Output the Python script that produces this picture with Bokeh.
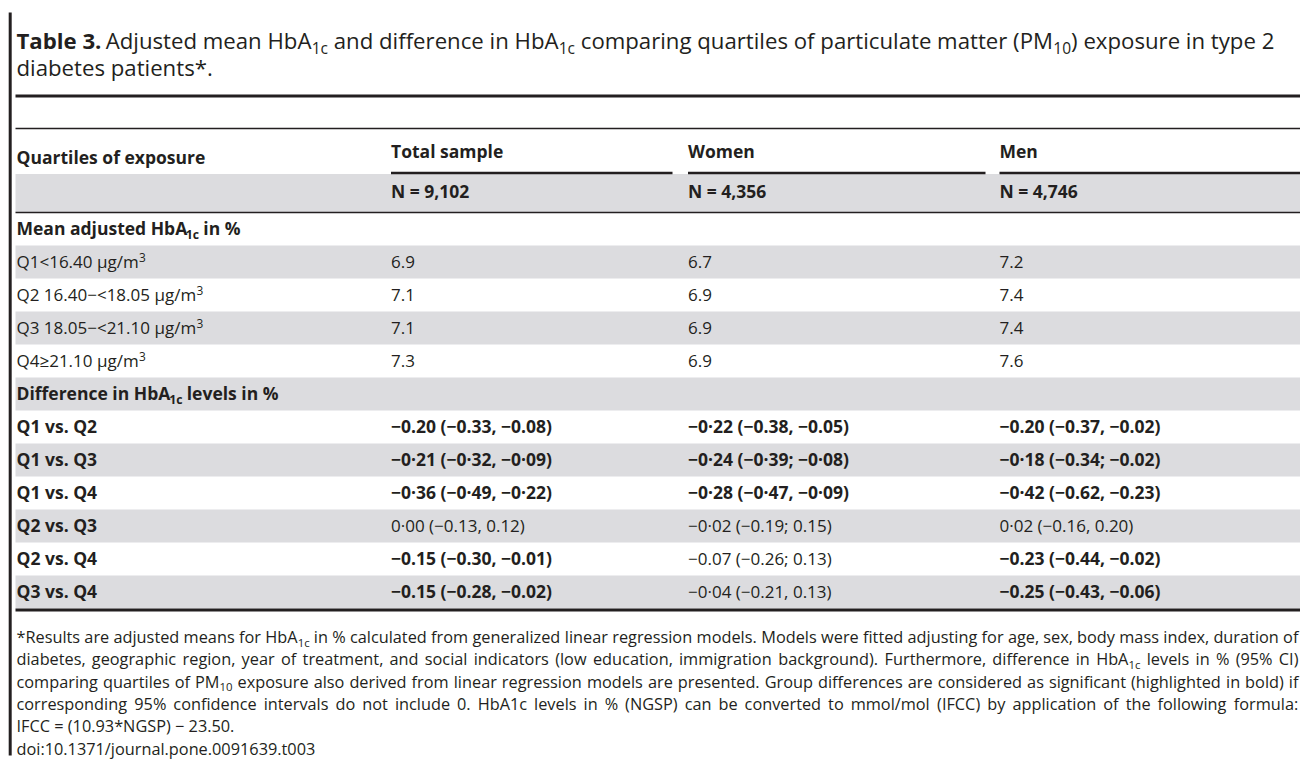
from bokeh.plotting import figure
from bokeh.models import Range1d, ColumnDataSource
from bokeh.core.properties import value
from bokeh.embed import file_html
from bokeh.resources import INLINE

# ---------------- data ----------------
col_headers = ["Total sample", "Women", "Men"]
n_labels = ["N = 9,102", "N = 4,356", "N = 4,746"]
quartile_labels = ["Q1<16.40 µg/m", "Q2 16.40−<18.05 µg/m", "Q3 18.05−<21.10 µg/m", "Q4≥21.10 µg/m"]
mean_total = [6.9, 7.1, 7.1, 7.3]
mean_women = [6.7, 6.9, 6.9, 6.9]
mean_men = [7.2, 7.4, 7.4, 7.6]
comparisons = ["Q1 vs. Q2", "Q1 vs. Q3", "Q1 vs. Q4", "Q2 vs. Q3", "Q2 vs. Q4", "Q3 vs. Q4"]
diff_total = ["−0.20 (−0.33, −0.08)", "−0·21 (−0·32, −0·09)", "−0·36 (−0·49, −0·22)",
              "0·00 (−0.13, 0.12)", "−0.15 (−0.30, −0.01)", "−0.15 (−0.28, −0.02)"]
diff_women = ["−0·22 (−0.38, −0.05)", "−0·24 (−0·39; −0·08)", "−0·28 (−0·47, −0·09)",
              "−0·02 (−0.19; 0.15)", "−0.07 (−0.26; 0.13)", "−0·04 (−0.21, 0.13)"]
diff_men = ["−0.20 (−0.37, −0.02)", "−0·18 (−0.34; −0.02)", "−0·42 (−0.62, −0.23)",
            "0·02 (−0.16, 0.20)", "−0.23 (−0.44, −0.02)", "−0.25 (−0.43, −0.06)"]
sig_total = [True, True, True, False, True, True]
sig_women = [True, True, True, False, False, False]
sig_men = [True, True, True, False, True, True]

title_runs = [
    [("Table 3.", "n", True), (" Adjusted mean HbA", "n", False), ("1c", "sub", False),
     (" and difference in HbA", "n", False), ("1c", "sub", False),
     (" comparing quartiles of particulate matter (PM", "n", False), ("10", "sub", False),
     (") exposure in type 2", "n", False)],
    [("diabetes patients*.", "n", False)],
]
footnote_runs = [
    [("*Results are adjusted means for HbA", "n", False), ("1c", "sub", False),
     (" in % calculated from generalized linear regression models. Models were fitted adjusting for age, sex, body mass index, duration of", "n", False)],
    [("diabetes, geographic region, year of treatment, and social indicators (low education, immigration background). Furthermore, difference in HbA", "n", False),
     ("1c", "sub", False), (" levels in % (95% CI)", "n", False)],
    [("comparing quartiles of PM", "n", False), ("10", "sub", False),
     (" exposure also derived from linear regression models are presented. Group differences are considered as significant (highlighted in bold) if", "n", False)],
    [("corresponding 95% confidence intervals do not include 0. HbA1c levels in % (NGSP) can be converted to mmol/mol (IFCC) by application of the following formula:", "n", False)],
    [("IFCC = (10.93*NGSP) − 23.50.", "n", False)],
    [("doi:10.1371/journal.pone.0091639.t003", "n", False)],
]

# ---------------- font metrics (Open Sans, units/2048) ----------------
REG = {' ': 532, '!': 547, '%': 1686, '(': 606, ')': 606, '*': 1120, '+': 1171, ',': 502, '-': 659,
       '.': 545, '/': 752, ':': 545, ';': 545, '<': 1171, '=': 1171, '>': 1171,
       'A': 1296, 'B': 1327, 'C': 1292, 'D': 1493, 'E': 1139, 'F': 1057, 'G': 1491, 'H': 1511,
       'I': 571, 'J': 547, 'K': 1257, 'L': 1063, 'M': 1849, 'N': 1544, 'O': 1595, 'P': 1233,
       'Q': 1595, 'R': 1266, 'S': 1124, 'T': 1138, 'U': 1511, 'V': 1235, 'W': 1911, 'X': 1192,
       'Y': 1143, 'Z': 1174, 'a': 1139, 'b': 1255, 'c': 975, 'd': 1255, 'e': 1149, 'f': 694,
       'g': 1122, 'h': 1257, 'i': 518, 'j': 518, 'k': 1075, 'l': 518, 'm': 1905, 'n': 1257,
       'o': 1237, 'p': 1255, 'q': 1255, 'r': 836, 's': 977, 't': 723, 'u': 1257, 'v': 1026,
       'w': 1593, 'x': 1073, 'y': 1028, 'z': 977, 'µ': 1268, '−': 1171, '≥': 1171, '·': 545}
BOLD = {' ': 532, '%': 1853, '(': 694, ')': 694, '*': 1120, ',': 586, '-': 659, '.': 586,
        ':': 586, ';': 586, '=': 1171, '−': 1171, '·': 586,
        'A': 1479, 'B': 1458, 'C': 1358, 'D': 1571, 'E': 1200, 'F': 1159, 'G': 1567, 'H': 1665,
        'I': 758, 'M': 2032, 'N': 1743, 'O': 1655, 'P': 1386, 'Q': 1655, 'R': 1450, 'S': 1198,
        'T': 1219, 'W': 2039, 'a': 1239, 'b': 1290, 'c': 1075, 'd': 1290, 'e': 1225, 'f': 817,
        'g': 1141, 'h': 1339, 'i': 625, 'j': 625, 'k': 1296, 'l': 625, 'm': 2009, 'n': 1339,
        'o': 1260, 'p': 1290, 'q': 1290, 'r': 932, 's': 1073, 't': 883, 'u': 1339, 'v': 1186,
        'w': 1735, 'x': 1225, 'y': 1186, 'z': 1036}
BOLD_SCALE = 0.976


def cw(ch, bold):
    if bold:
        w = 1171 if ch.isdigit() else BOLD.get(ch, 1150)
        return w * BOLD_SCALE / 2048
    w = 1171 if ch.isdigit() else REG.get(ch, 1150)
    return w / 2048


SUBF = 0.7
MID = 0.39  # baseline -> em-box middle


def run_size(kind, size):
    return size * SUBF if kind in ("sub", "sup") else size


def str_w(t, bold, s):
    return sum(cw(c, bold) * s for c in t)


def runs_width(runs, size):
    return sum(str_w(t, b, run_size(k, size)) for t, k, b in runs)


texts = {}  # (size, bold) -> lists


def emit(x, baseline, t, size, bold):
    key = (round(size, 2), bold)
    d = texts.setdefault(key, {"x": [], "y": [], "text": []})
    d["x"].append(x)
    d["y"].append(baseline - MID * size)
    d["text"].append(t)


def layout(runs, x0, y, size, target=None):
    nat = runs_width(runs, size)
    nsp = sum(t.count(' ') for t, k, b in runs if k == "n")
    extra = (target - nat) / nsp if (target and nsp) else 0.0
    x = x0
    for t, k, b in runs:
        s = run_size(k, size)
        yy = y + (0.22 * size if k == "sub" else (-0.38 * size if k == "sup" else 0))
        if k == "n" and target:
            buf, bx = "", x
            for ch in t:
                if ch == ' ':
                    if buf:
                        emit(bx, yy, buf, s, b)
                    x += cw(' ', b) * s + extra
                    buf = ""
                else:
                    if not buf:
                        bx = x
                    buf += ch
                    x += cw(ch, b) * s
            if buf:
                emit(bx, yy, buf, s, b)
        else:
            lead = len(t) - len(t.lstrip(' '))
            core = t.strip(' ')
            emit(x + lead * cw(' ', b) * s, yy, core, s, b)
            x += str_w(t, b, s)
    return x


# ---------------- figure ----------------
W, H = 1300, 760
p = figure(width=W, height=H, output_backend="svg", toolbar_location=None,
           x_range=Range1d(0, W), y_range=Range1d(H, 0),
           x_axis_location=None, y_axis_location=None, min_border=0)
p.grid.visible = False
p.outline_line_color = None
p.background_fill_color = "white"
p.border_fill_color = "white"

INK = "#231f20"
GREY = "#dcdcdf"
XL, XR = 15, 1300
LEFT_TXT = 16
TXT_R = 1298
col_x = [390.5, 687.5, 999.0]
col_end = [672, 985, XR]
ROW0, ROWH = 212, 33

# grey bands: header N band + odd body rows
n_rows = 1 + len(quartile_labels) + 1 + len(comparisons)
band_top = [173.5] + [ROW0 + ROWH * i for i in range(n_rows) if i % 2 == 1]
band_bot = [211.5] + [ROW0 + ROWH * (i + 1) for i in range(n_rows) if i % 2 == 1]
p.quad(left=[XL] * len(band_top), right=[XR] * len(band_top), top=band_top, bottom=band_bot,
       fill_color=GREY, line_color=None)


def hrule(x0, x1, y, w):
    p.segment(x0=[x0], y0=[y], x1=[x1], y1=[y], line_color=INK, line_width=w)


hrule(XL, XR, 95.5, 3)
hrule(XL, XR, 128, 1.4)
for cx, ce in zip(col_x, col_end):
    hrule(cx, ce, 172.5, 2.4)
hrule(XL, XR, 212, 1.5)
hrule(XL, XR, ROW0 + ROWH * n_rows + 1.5, 3)
p.segment(x0=[9.7], y0=[12], x1=[9.7], y1=[755], line_color=INK, line_width=3)

# title (fit first line width)
title_size = (1274 - LEFT_TXT) / runs_width(title_runs[0], 1.0)
for i, runs in enumerate(title_runs):
    layout(runs, LEFT_TXT, 49 + 27 * i, title_size)

BSZ, RSZ = 17.5, 17.0
emit(LEFT_TXT, 163.5, "Quartiles of exposure", BSZ, True)
for cx, h, nl in zip(col_x, col_headers, n_labels):
    emit(cx, 157, h, BSZ, True)
    emit(cx, 197, nl, BSZ, True)


def base(i):
    return ROW0 + ROWH * i + 22.8


layout([("Mean adjusted HbA", "n", True), ("1c", "sub", True), (" in %", "n", True)], LEFT_TXT, base(0), BSZ)
for j, lab in enumerate(quartile_labels):
    r = 1 + j
    layout([(lab, "n", False), ("3", "sup", False)], LEFT_TXT, base(r), RSZ)
    for cx, vals in zip(col_x, [mean_total, mean_women, mean_men]):
        emit(cx, base(r), f"{vals[j]:.1f}", RSZ, False)
r0 = 1 + len(quartile_labels)
layout([("Difference in HbA", "n", True), ("1c", "sub", True), (" levels in %", "n", True)], LEFT_TXT, base(r0), BSZ)
for j, comp in enumerate(comparisons):
    r = r0 + 1 + j
    emit(LEFT_TXT, base(r), comp, BSZ, True)
    for cx, vals, sig in zip(col_x, [diff_total, diff_women, diff_men], [sig_total, sig_women, sig_men]):
        emit(cx, base(r), vals[j], BSZ if sig[j] else RSZ, sig[j])

# footnote (justified lines)
foot_size = (TXT_R - LEFT_TXT) / max(runs_width(r, 1.0) for r in footnote_runs[:4])
for i, runs in enumerate(footnote_runs):
    tgt = (TXT_R - LEFT_TXT) if i < 4 else None
    layout(runs, LEFT_TXT, 643 + 22.3 * i, foot_size, tgt)

for (size, bold), d in texts.items():
    p.text(x="x", y="y", text="text", source=ColumnDataSource(d),
           text_font=value("Open Sans"), text_font_size=value(f"{size}px"),
           text_font_style=value("bold" if bold else "normal"),
           text_color=INK, text_align="left", text_baseline="middle")

open("out.html", "w").write(file_html(p, INLINE))
